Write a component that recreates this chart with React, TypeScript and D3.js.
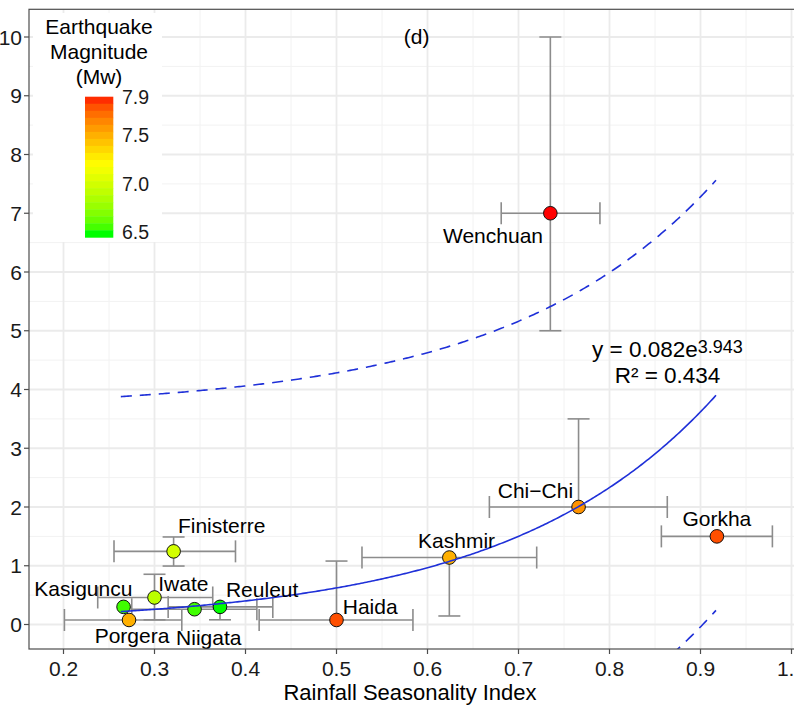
import React from 'react';
import * as d3 from 'd3';

// ---------- data ----------
const events = ['Wenchuan', 'Chi\u2212Chi', 'Gorkha', 'Kashmir', 'Haida', 'Finisterre', 'Iwate', 'Kasiguncu', 'Reuleut', 'Niigata', 'Porgera'];
const seasonality = [0.735, 0.766, 0.918, 0.624, 0.5, 0.321, 0.3, 0.266, 0.372, 0.344, 0.272];
const yValue = [7.0, 2.0, 1.5, 1.14, 0.077, 1.245, 0.46, 0.3, 0.3, 0.26, 0.077];
const magnitude = [7.9, 7.6, 7.8, 7.5, 7.8, 7.0, 6.9, 6.55, 6.5, 6.55, 7.5];
const xLow: (number | null)[] = [0.681, 0.668, 0.857, 0.528, 0.415, 0.2555, 0.2376, null, 0.315, 0.275, 0.201];
const xHigh: (number | null)[] = [0.7895, 0.8635, 0.979, 0.72, 0.584, 0.389, 0.364, null, 0.43, 0.4125, 0.33];
const yLow: (number | null)[] = [5.0, null, null, 0.145, null, 0.995, 0.08, null, 0.08, null, null];
const yHigh: (number | null)[] = [10.0, 3.5, null, null, 1.08, 1.49, 0.855, null, null, null, null];
const labelX = [0.672, 0.7186, 0.918, 0.632, 0.537, 0.3738, 0.3317, 0.2218, 0.4183, 0.3596, 0.2753];
const labelY = [6.62, 2.29, 1.8, 1.43, 0.31, 1.685, 0.695, 0.607, 0.604, -0.227, -0.187];

const xTicks = [0.2, 0.3, 0.4, 0.5, 0.6, 0.7, 0.8, 0.9, 1.0];
const xTickLabels = ['0.2', '0.3', '0.4', '0.5', '0.6', '0.7', '0.8', '0.9', '1.0'];
const xMinor = [0.25, 0.35, 0.45, 0.55, 0.65, 0.75, 0.85, 0.95];
const yTicks = [0, 1, 2, 3, 4, 5, 6, 7, 8, 9, 10];
const yMinor = [0.5, 1.5, 2.5, 3.5, 4.5, 5.5, 6.5, 7.5, 8.5, 9.5];

const legendTitle = ['Earthquake', 'Magnitude', '(Mw)'];
const legendBreaks = [6.5, 7.0, 7.5, 7.9];
const legendLabels = ['6.5', '7.0', '7.5', '7.9'];
const colorStops = ['#00FF00', '#FFFF00', '#FF0000'];
const colorDomain = [6.5, 7.2, 7.9];

// fitted curve y = a*exp(b*x) with +/- prediction band
const FIT_A = 0.069;
const FIT_B = 4.4;
const BAND = 3.66;
const FIT_RANGE = [0.263, 0.917];

const eqMain = 'y = 0.082e';
const eqSup = '3.943';
const eqR2 = 'R\u00B2 = 0.434';
const panelTag = '(d)';
const xTitle = 'Rainfall Seasonality Index';

// ---------- layout ----------
const W = 794, H = 705;
const PX0 = 29, PX1 = 800, PY0 = 9.3, PY1 = 649;
const FONT = "'Liberation Sans', Arial, Helvetica, sans-serif";

export default function App() {
  const x = d3.scaleLinear().domain([0.2, 1.0]).range([63.5, 791.5]);
  const y = d3.scaleLinear().domain([0, 10]).range([624.5, 37]);
  const color = d3.scaleLinear<string>().domain(colorDomain).range(colorStops).interpolate(d3.interpolateLab).clamp(true);

  const fitXs = d3.range(FIT_RANGE[0], FIT_RANGE[1] + 1e-9, 0.002);
  const fit = (v: number) => FIT_A * Math.exp(FIT_B * v);
  const line = d3.line<[number, number]>().x(d => x(d[0])).y(d => y(d[1]));
  const fitPath = line(fitXs.map(v => [v, fit(v)]))!;
  const upPath = line(fitXs.map(v => [v, fit(v) + BAND]))!;
  const loPath = line(fitXs.map(v => [v, fit(v) - BAND]))!;

  const CAP = 11;
  const errColor = '#8c8c8c';

  // legend scale
  const ly = d3.scaleLinear().domain([6.5, 7.9]).range([232.3, 96.7]);
  const barTop = 96.7, barBot = 237.3, nbin = 20;
  const binH = (barBot - barTop) / nbin;
  const bins = d3.range(nbin).map(i => {
    const yc = barTop + (i + 0.5) * binH;
    return { y0: barTop + i * binH, v: ly.invert(yc) };
  });

  return (
    <svg width={W} height={H} style={{ position: 'absolute', left: 0, top: 0, background: '#fff' }} fontFamily={FONT}>
      <defs>
        <clipPath id="panel">
          <rect x={PX0} y={PY0} width={PX1 - PX0} height={PY1 - PY0} />
        </clipPath>
      </defs>
      <rect x={0} y={0} width={W} height={H} fill="#fff" />
      {/* grid */}
      <g>
        {xMinor.map(v => <line key={'xm' + v} x1={x(v)} x2={x(v)} y1={PY0} y2={PY1} stroke="#F2F2F2" strokeWidth={1} />)}
        {yMinor.map(v => <line key={'ym' + v} x1={PX0} x2={PX1} y1={y(v)} y2={y(v)} stroke="#F2F2F2" strokeWidth={1} />)}
        {xTicks.map(v => <line key={'xg' + v} x1={x(v)} x2={x(v)} y1={PY0} y2={PY1} stroke="#EBEBEB" strokeWidth={1.8} />)}
        {yTicks.map(v => <line key={'yg' + v} x1={PX0} x2={PX1} y1={y(v)} y2={y(v)} stroke="#EBEBEB" strokeWidth={1.8} />)}
      </g>
      <g clipPath="url(#panel)">
        {/* error bars */}
        {events.map((e, i) => {
          const cx = x(seasonality[i]), cy = y(yValue[i]);
          const els: any[] = [];
          const xl = xLow[i], xh = xHigh[i], yl = yLow[i], yh = yHigh[i];
          if (xl !== null || xh !== null) {
            const a = x(xl ?? seasonality[i]), b = x(xh ?? seasonality[i]);
            els.push(<line key="h" x1={a} x2={b} y1={cy} y2={cy} />);
            if (xl !== null) els.push(<line key="hl" x1={a} x2={a} y1={cy - CAP} y2={cy + CAP} />);
            if (xh !== null) els.push(<line key="hh" x1={b} x2={b} y1={cy - CAP} y2={cy + CAP} />);
          }
          if (yl !== null || yh !== null) {
            const a = y(yl ?? yValue[i]), b = y(yh ?? yValue[i]);
            els.push(<line key="v" x1={cx} x2={cx} y1={a} y2={b} />);
            if (yl !== null) els.push(<line key="vl" x1={cx - CAP} x2={cx + CAP} y1={a} y2={a} />);
            if (yh !== null) els.push(<line key="vh" x1={cx - CAP} x2={cx + CAP} y1={b} y2={b} />);
          }
          return <g key={e} stroke={errColor} strokeWidth={1.6}>{els}</g>;
        })}
        {/* points */}
        {events.map((e, i) => (
          <circle key={'p' + e} cx={x(seasonality[i])} cy={y(yValue[i])} r={6.8} fill={color(magnitude[i])} stroke="#111" strokeWidth={1} />
        ))}
        {/* fit curves */}
        <path d={upPath} fill="none" stroke="#1f30d8" strokeWidth={1.6} strokeDasharray="11,8" />
        <path d={loPath} fill="none" stroke="#1f30d8" strokeWidth={1.6} strokeDasharray="11,8" />
        <path d={fitPath} fill="none" stroke="#1f30d8" strokeWidth={1.6} />
        {/* labels */}
        {events.map((e, i) => (
          <text key={'l' + e} x={x(labelX[i])} y={y(labelY[i])} dy="0.36em" textAnchor="middle" fontSize={21} fill="#000">{e}</text>
        ))}
      </g>
      {/* equation */}
      <text x={667.5} y={356.7} textAnchor="middle" fontSize={22.5} fill="#000">
        {eqMain}<tspan fontSize={18} dy={-4}>{eqSup}</tspan>
      </text>
      <text x={667.5} y={383.3} textAnchor="middle" fontSize={22.5} fill="#000">{eqR2}</text>
      <text x={416.7} y={43.5} textAnchor="middle" fontSize={21} fill="#000">{panelTag}</text>
      {/* panel border */}
      <rect x={PX0} y={PY0} width={PX1 - PX0} height={PY1 - PY0} fill="none" stroke="#4d4d4d" strokeWidth={1.2} />
      {/* axes ticks */}
      {yTicks.map(v => (
        <g key={'yt' + v}>
          <line x1={PX0 - 5} x2={PX0} y1={y(v)} y2={y(v)} stroke="#4d4d4d" strokeWidth={1.2} />
          <text x={22} y={y(v)} dy="0.36em" textAnchor="end" fontSize={21} fill="#1a1a1a">{String(v)}</text>
        </g>
      ))}
      {xTicks.map((v, i) => (
        <g key={'xt' + v}>
          <line x1={x(v)} x2={x(v)} y1={PY1} y2={PY1 + 5} stroke="#4d4d4d" strokeWidth={1.2} />
          <text x={x(v)} y={675.5} textAnchor="middle" fontSize={21} fill="#1a1a1a">{xTickLabels[i]}</text>
        </g>
      ))}
      <text x={410} y={700} textAnchor="middle" fontSize={22} fill="#000">{xTitle}</text>
      {/* legend */}
      <g>
        <rect x={33} y={13} width={129} height={229} fill="#fff" />
        {legendTitle.map((t, i) => (
          <text key={'lt' + i} x={99} y={[33.5, 58.5, 84][i]} textAnchor="middle" fontSize={21} fill="#000">{t}</text>
        ))}
        {bins.map((b, i) => (
          <rect key={'b' + i} x={85} y={b.y0} width={28.3} height={binH + 0.4} fill={color(b.v)} />
        ))}
        {legendBreaks.map((v, i) => (
          <text key={'lb' + v} x={122} y={ly(v)} dy="0.36em" fontSize={19.5} fill="#1a1a1a">{legendLabels[i]}</text>
        ))}
      </g>
    </svg>
  );
}
